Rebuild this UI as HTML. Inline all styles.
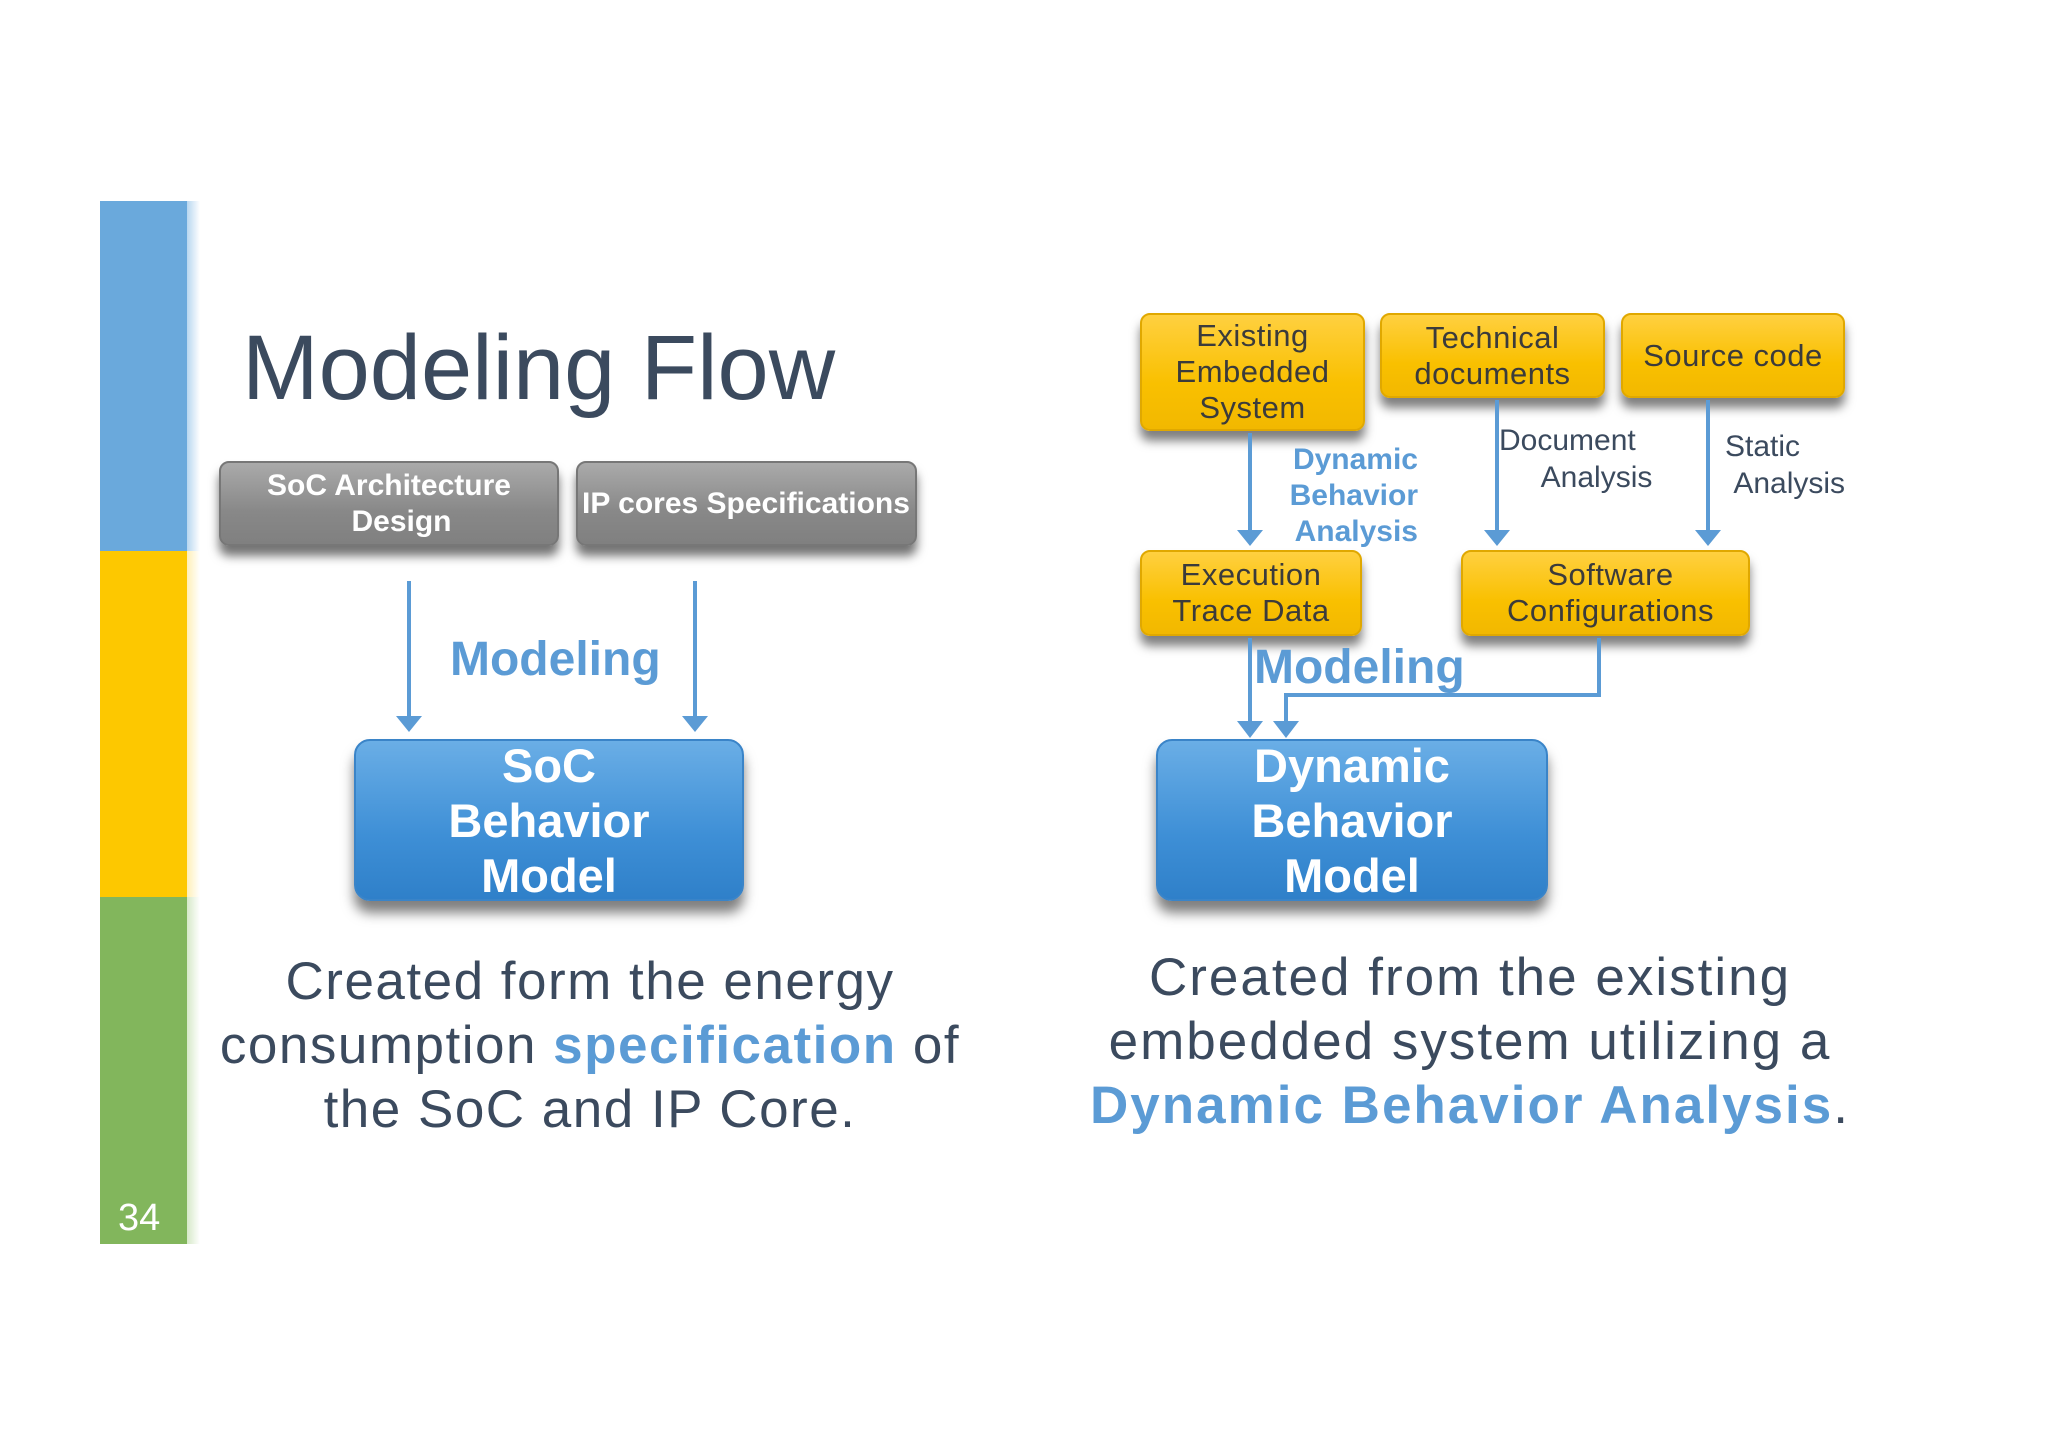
<!DOCTYPE html>
<html><head><meta charset="utf-8"><style>
body{margin:0;width:2048px;height:1447px;background:#fff;position:relative;overflow:hidden;font-family:"Liberation Sans",sans-serif;}
.a{position:absolute;}
.gray{background:linear-gradient(#aaa,#888 60%,#808080);border:2px solid #777;border-radius:10px;box-shadow:0 10px 10px rgba(0,0,0,.55);color:#fff;font-weight:bold;font-size:30px;text-align:center;display:flex;align-items:center;justify-content:center;line-height:36px;box-sizing:border-box;}
.yel{background:linear-gradient(#ffd040,#f9c000 60%,#f2b800);border:2px solid #e0a800;border-radius:10px;box-shadow:0 10px 10px rgba(0,0,0,.5);color:#3b3b3b;font-size:31px;text-align:center;display:flex;align-items:center;justify-content:center;line-height:36px;box-sizing:border-box;letter-spacing:0.5px;}
.blue{background:linear-gradient(#6aaee6,#3e8fd6 60%,#2f80c9);border:2px solid #3a84c8;border-radius:16px;box-shadow:0 12px 12px rgba(0,0,0,.5);color:#fff;font-weight:bold;font-size:47px;text-align:center;display:flex;align-items:center;justify-content:center;line-height:55px;box-sizing:border-box;}
.cap{color:#3b4a5e;font-size:53px;text-align:center;line-height:64px;}
.b{color:#5b9bd5;font-weight:bold;}
</style></head><body>
<div class="a" style="left:100px;top:201px;width:87px;height:350px;background:#6aa9dc"></div>
<div class="a" style="left:100px;top:551px;width:87px;height:346px;background:#fdc800"></div>
<div class="a" style="left:100px;top:897px;width:87px;height:347px;background:#82b65c"></div>
<div class="a" style="left:187px;top:201px;width:13px;height:350px;background:linear-gradient(90deg,#b8d7f0,#fff)"></div>
<div class="a" style="left:187px;top:551px;width:13px;height:346px;background:linear-gradient(90deg,#fff0b8,#fff)"></div>
<div class="a" style="left:187px;top:897px;width:13px;height:347px;background:linear-gradient(90deg,#d6e9c8,#fff)"></div>
<div class="a" style="left:118px;top:1197px;color:#fff;font-size:38px">34</div>
<div class="a" style="left:242px;top:313px;color:#3b4a5e;font-size:92px;line-height:110px">Modeling Flow</div>

<div class="a gray" style="left:219px;top:461px;width:340px;height:85px">SoC Architecture<br>&nbsp;&nbsp;&nbsp;Design</div>
<div class="a gray" style="left:576px;top:461px;width:341px;height:85px;justify-content:flex-start;padding-left:4px;white-space:nowrap">IP cores Specifications</div>
<div class="a b" style="left:450px;top:632px;font-size:48px">Modeling</div>
<div class="a blue" style="left:354px;top:739px;width:390px;height:162px">SoC<br>Behavior<br>Model</div>
<div class="a cap" style="left:140px;top:950px;width:900px;letter-spacing:1.5px">Created form the energy<br>consumption <span class="b">specification</span> of<br>the SoC and IP Core.</div>

<div class="a yel" style="left:1140px;top:313px;width:225px;height:118px">Existing<br>Embedded<br>System</div>
<div class="a yel" style="left:1380px;top:313px;width:225px;height:85px">Technical<br>documents</div>
<div class="a yel" style="left:1621px;top:313px;width:224px;height:85px">Source code</div>
<div class="a yel" style="left:1140px;top:550px;width:222px;height:86px">Execution<br>Trace Data</div>
<div class="a yel" style="left:1461px;top:550px;width:289px;height:86px;padding-left:10px">Software<br>Configurations</div>
<div class="a blue" style="left:1156px;top:739px;width:392px;height:162px">Dynamic<br>Behavior<br>Model</div>
<div class="a b" style="left:1230px;top:442px;width:188px;text-align:right;font-size:30px;line-height:36px">Dynamic<br>Behavior<br>Analysis</div>
<div class="a" style="left:1499px;top:422px;color:#3b4a5e;font-size:30px;line-height:37px">Document<br>&nbsp;&nbsp;&nbsp;&nbsp;&nbsp;Analysis</div>
<div class="a" style="left:1725px;top:428px;color:#3b4a5e;font-size:30px;line-height:37px">Static<br>&nbsp;Analysis</div>
<div class="a b" style="left:1254px;top:640px;font-size:48px">Modeling</div>
<div class="a cap" style="left:1020px;top:946px;width:900px;letter-spacing:2px">Created from the existing<br>embedded system utilizing a<br><span class="b">Dynamic Behavior Analysis</span>.</div>

<svg class="a" style="left:0;top:0" width="2048" height="1447">
<g stroke="#5b9bd5" stroke-width="4" fill="none">
<line x1="409" y1="581" x2="409" y2="720"/><line x1="695" y1="581" x2="695" y2="720"/>
<line x1="1250" y1="433" x2="1250" y2="532"/><line x1="1497" y1="400" x2="1497" y2="532"/><line x1="1708" y1="400" x2="1708" y2="532"/>
<line x1="1250" y1="638" x2="1250" y2="722"/><polyline points="1599,638 1599,695 1286,695 1286,722"/>
</g>
<g fill="#5b9bd5">
<polygon points="396,716 422,716 409,732"/><polygon points="682,716 708,716 695,732"/>
<polygon points="1237,530 1263,530 1250,546"/><polygon points="1484,530 1510,530 1497,546"/><polygon points="1695,530 1721,530 1708,546"/>
<polygon points="1237,721 1263,721 1250,738"/><polygon points="1273,721 1299,721 1286,738"/>
</g></svg>
</body></html>
